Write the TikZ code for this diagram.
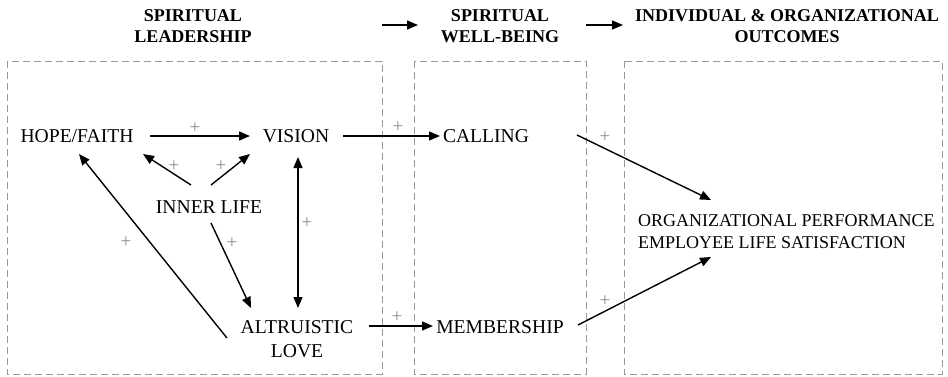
\documentclass[tikz,border=0pt]{standalone}
\usepackage{fontspec}
\setmainfont{Liberation Serif}
\usetikzlibrary{arrows.meta,calc}
\begin{document}
\begin{tikzpicture}[x=1pt,y=-1pt,
  txt/.style={font=\fontsize{19.6}{24}\selectfont, inner sep=0pt, align=center},
  otxt/.style={font=\fontsize{18}{22}\selectfont, inner sep=0pt, align=left},
  hdr/.style={font=\fontsize{18}{21}\selectfont\bfseries, inner sep=0pt, align=center},
  plus/.style={font=\fontsize{19}{19}\selectfont, text=black!45, inner sep=0pt},
  arr/.style={line width=1.4pt, -{Triangle[length=11pt,width=9pt]}},
  darr/.style={line width=1.4pt, {Triangle[length=11pt,width=9pt]}-{Triangle[length=11pt,width=9pt]}},
  frame/.style={draw=black!40, line width=0.8pt, dash pattern=on 7pt off 4pt}]
\useasboundingbox (0,0) rectangle (948,376);
% frames
\draw[frame] (7,61) rectangle (382,374);
\draw[frame] (414,61) rectangle (586,374);
\draw[frame] (624,61) rectangle (942,374);
% headers
\node[hdr] (h1) at (193,26) {SPIRITUAL\\LEADERSHIP};
\node[hdr] (h2) at (500,26) {SPIRITUAL\\WELL-BEING};
\node[hdr] (h3) at (787,26) {INDIVIDUAL \& ORGANIZATIONAL\\OUTCOMES};
\draw[arr] ($(h1)+(189,-1)$) -- ($(h2)+(-82,-1)$);
\draw[arr] ($(h2)+(86,-1)$) -- ($(h3)+(-164,-1)$);
% nodes
\node[txt] (hf) at (77,136) {HOPE/FAITH};
\node[txt] (vis) at (296,136) {VISION};
\node[txt] (cal) at (486,136) {CALLING};
\node[txt] (il) at (209,207) {INNER LIFE};
\node[txt] (al) at (297,339) {ALTRUISTIC\\LOVE};
\node[txt] (mem) at (500,327) {MEMBERSHIP};
\node[otxt, anchor=west] (out) at (638,232) {ORGANIZATIONAL PERFORMANCE\\EMPLOYEE LIFE SATISFACTION};
% connectors
\draw[arr] ($(hf)+(73,0)$) -- ($(vis)+(-46,0)$);
\draw[arr] ($(vis)+(47,0)$) -- ($(cal)+(-46,0)$);
\draw[arr] ($(il)+(-18,-22)$) -- ($(hf)+(66,18)$);
\draw[arr] ($(il)+(2,-22)$) -- ($(vis)+(-46,18)$);
\draw[darr] ($(vis)+(2,21)$) -- ($(al)+(1,-31)$);
\draw[arr] ($(al)+(-70,-1)$) -- ($(hf)+(2,18)$);
\draw[arr] ($(il)+(2,16)$) -- ($(al)+(-46,-31)$);
\draw[arr] ($(al)+(72,-13)$) -- ($(mem)+(-67,-1)$);
\draw[arr] ($(cal)+(91,-1)$) -- ($(out.west)+(73,-32)$);
\draw[arr] ($(mem)+(78,-2)$) -- ($(out.west)+(73,25)$);
% plus labels
\node[plus] (p1) at (195,128) {+};
\node[plus] (p2) at (398,127) {+};
\node[plus] (p3) at (174,166) {+};
\node[plus] (p4) at (221,166) {+};
\node[plus] (p5) at (307,223) {+};
\node[plus] (p6) at (126,242) {+};
\node[plus] (p7) at (232,243) {+};
\node[plus] (p8) at (397,317) {+};
\node[plus] (p9) at (605,137) {+};
\node[plus] (p10) at (605,301) {+};
\end{tikzpicture}
\end{document}
